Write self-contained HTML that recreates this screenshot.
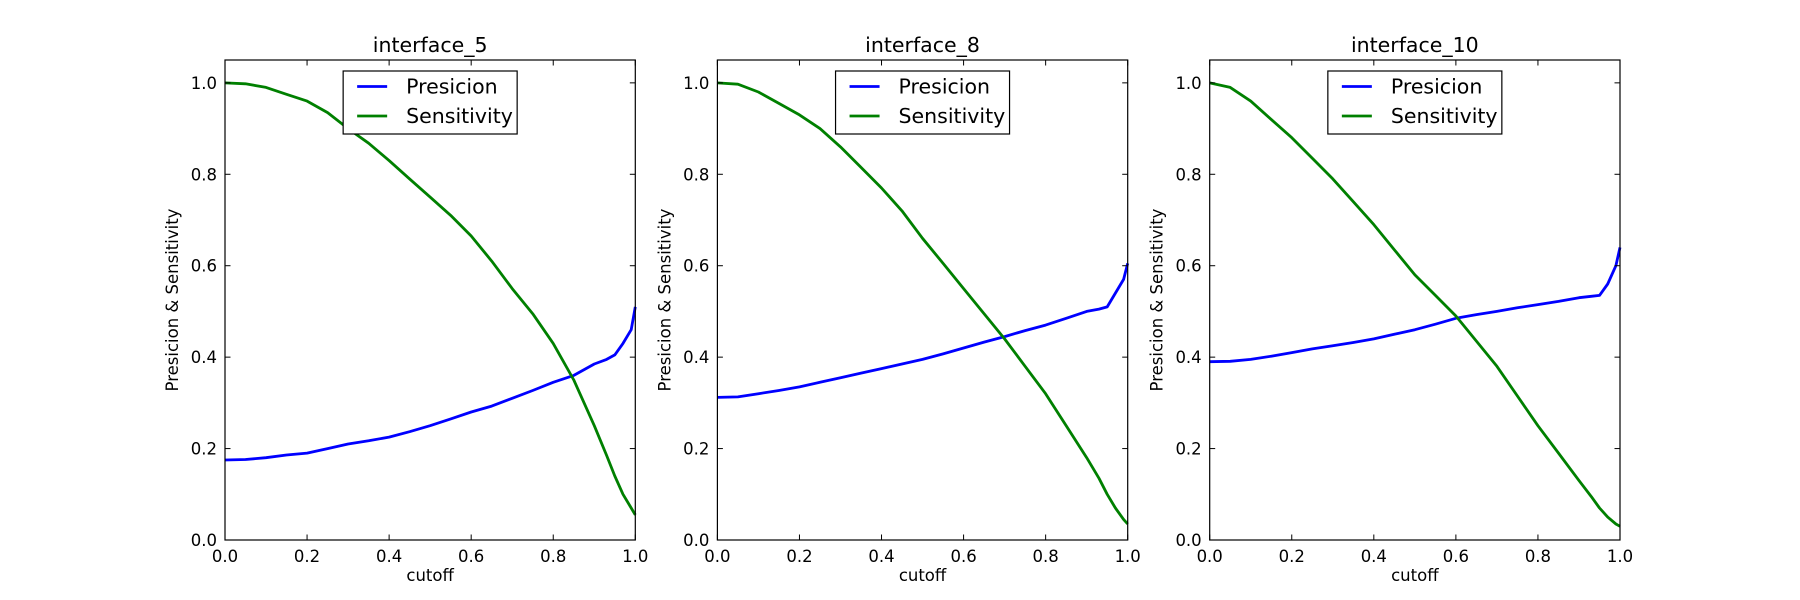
<!DOCTYPE html>
<html><head><meta charset="utf-8">
<style>
html,body{margin:0;padding:0;background:#fff;}
svg{display:block;}
text{font-family:"DejaVu Sans","Liberation Sans",sans-serif;fill:#000;}
</style></head>
<body>
<svg id="fig" width="1800" height="600" xmlns="http://www.w3.org/2000/svg"></svg>
<script>
const titles = ["interface_5","interface_8","interface_10"];
const xTicks = [0,0.2,0.4,0.6,0.8,1.0];
const yTicks = [0,0.2,0.4,0.6,0.8,1.0];
const cut1 = [0,0.05,0.1,0.15,0.2,0.25,0.3,0.35,0.4,0.45,0.5,0.55,0.6,0.65,0.7,0.75,0.8,0.85,0.9,0.93,0.95,0.97,0.99,1.0];
const prec1 = [0.175,0.176,0.18,0.186,0.19,0.2,0.21,0.217,0.225,0.237,0.25,0.265,0.28,0.293,0.31,0.327,0.345,0.36,0.385,0.395,0.405,0.43,0.46,0.51];
const sens1 = [1.0,0.998,0.99,0.975,0.96,0.935,0.9,0.868,0.83,0.79,0.75,0.71,0.665,0.61,0.55,0.495,0.43,0.35,0.25,0.185,0.14,0.1,0.07,0.055];
const cut2 = [0,0.05,0.1,0.15,0.2,0.25,0.3,0.35,0.4,0.45,0.5,0.55,0.6,0.65,0.7,0.75,0.8,0.85,0.9,0.93,0.95,0.97,0.99,1.0];
const prec2 = [0.312,0.313,0.32,0.327,0.335,0.345,0.355,0.365,0.375,0.385,0.395,0.407,0.42,0.433,0.445,0.458,0.47,0.485,0.5,0.505,0.51,0.54,0.57,0.605];
const sens2 = [1.0,0.997,0.98,0.955,0.93,0.9,0.86,0.815,0.77,0.72,0.66,0.605,0.55,0.495,0.44,0.38,0.32,0.25,0.18,0.135,0.1,0.07,0.045,0.035];
const cut3 = [0,0.05,0.1,0.15,0.2,0.25,0.3,0.35,0.4,0.45,0.5,0.55,0.6,0.65,0.7,0.75,0.8,0.85,0.9,0.93,0.95,0.97,0.99,1.0];
const prec3 = [0.39,0.391,0.395,0.402,0.41,0.418,0.425,0.432,0.44,0.45,0.46,0.472,0.485,0.493,0.5,0.508,0.515,0.522,0.53,0.533,0.535,0.56,0.6,0.64];
const sens3 = [1.0,0.99,0.96,0.92,0.88,0.835,0.79,0.74,0.69,0.635,0.58,0.535,0.49,0.435,0.38,0.315,0.25,0.19,0.13,0.095,0.07,0.05,0.035,0.03];
const cuts=[cut1,cut2,cut3], precs=[prec1,prec2,prec3], senss=[sens1,sens2,sens3];

const NS="http://www.w3.org/2000/svg";
const svg=document.getElementById('fig');
function mk(tag,attrs,parent){const e=document.createElementNS(NS,tag);for(const k in attrs)e.setAttribute(k,attrs[k]);(parent||svg).appendChild(e);return e;}
const lefts=[225,717.4,1209.7], W=410.3, TOP=60, H=480;
for(let p=0;p<3;p++){
  const L=lefts[p];
  const xs=v=>L+v*W;
  const ys=v=>TOP+H-(v/1.05)*H;
  const g=mk('g',{});
  
  
  const t=mk('text',{x:L+W/2,y:TOP-8,'text-anchor':'middle','font-size':'20.5'},g);
  t.textContent=titles[p];
  
  
  const mkPath=(xv,yv)=>xv.map((x,i)=>(i?'L':'M')+xs(x).toFixed(1)+' '+ys(yv[i]).toFixed(1)).join(' ');
  const pl=mk('path',{d:mkPath(cuts[p],precs[p]),fill:'none',stroke:'#0000ff','stroke-width':2.8,'stroke-linejoin':'round'},g);
  
  
  const sl=mk('path',{d:mkPath(cuts[p],senss[p]),fill:'none',stroke:'#008000','stroke-width':2.8,'stroke-linejoin':'round'},g);
  
  
  const fr=mk('rect',{x:L,y:TOP,width:W,height:H,fill:'none',stroke:'#000','stroke-width':1.2},g);
  
  
  xTicks.forEach(v=>{
    const x=xs(v);
    mk('line',{x1:x,y1:TOP+H,x2:x,y2:TOP+H-5.5,stroke:'#000'},g);
    mk('line',{x1:x,y1:TOP,x2:x,y2:TOP+5.5,stroke:'#000'},g);
    const tl=mk('text',{x:x,y:TOP+H+22,'text-anchor':'middle','font-size':'16.5'},g);
    tl.textContent=v.toFixed(1);
    
    
  });
  yTicks.forEach(v=>{
    const y=ys(v);
    mk('line',{x1:L,y1:y,x2:L+5.5,y2:y,stroke:'#000'},g);
    mk('line',{x1:L+W,y1:y,x2:L+W-5.5,y2:y,stroke:'#000'},g);
    const tl=mk('text',{x:L-8,y:y+6,'text-anchor':'end','font-size':'16.5'},g);
    tl.textContent=v.toFixed(1);
    
    
  });
  const xl=mk('text',{x:L+W/2,y:581,'text-anchor':'middle','font-size':'16.5'},g);
  xl.textContent='cutoff';
  
  
  const yl=mk('text',{x:0,y:0,'text-anchor':'middle','font-size':'16.5',transform:`translate(${L-47},${TOP+H/2}) rotate(-90)`},g);
  yl.textContent='Presicion & Sensitivity';
  
  
  const lx=L+W/2-87, ly=71;
  const lg=mk('g',{},g);
  
  
  mk('rect',{x:lx,y:ly,width:174,height:63,fill:'#fff',stroke:'#000','stroke-width':1.2},lg);
  [['Presicion','#0000ff'],['Sensitivity','#008000']].forEach((e,i)=>{
    const yy=ly+15.5+i*29.5;
    const le=mk('g',{},lg);
    
    
    mk('line',{x1:lx+14,y1:yy,x2:lx+44,y2:yy,stroke:e[1],'stroke-width':2.8},le);
    const tx=mk('text',{x:lx+63,y:yy+7,'font-size':'20.5'},le);
    tx.textContent=e[0];
  });
}
</script>
</body></html>
